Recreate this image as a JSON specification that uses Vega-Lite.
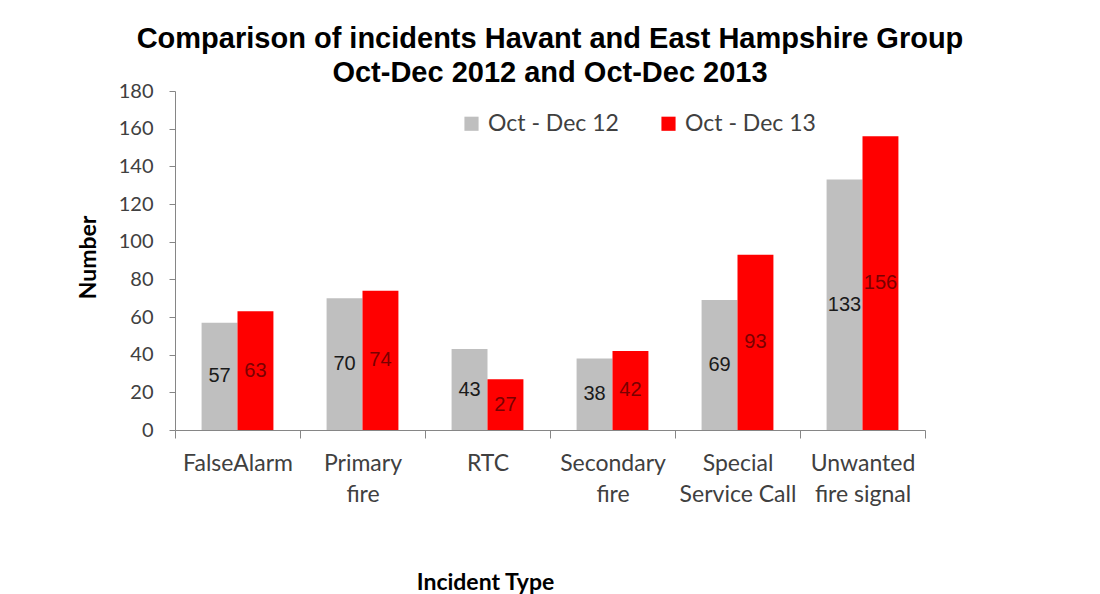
{
  "$schema": "https://vega.github.io/schema/vega-lite/v6.json",
  "width": 750,
  "height": 339,
  "autosize": {"type": "none"},
  "padding": {"left": 175, "top": 91, "right": 175, "bottom": 164},
  "background": "white",
  "title": {
    "text": ["Comparison of incidents Havant and East Hampshire Group", "Oct-Dec 2012 and Oct-Dec 2013"],
    "font": "Liberation Sans",
    "fontSize": 29,
    "fontWeight": "bold",
    "color": "#000000",
    "anchor": "middle",
    "frame": "group",
    "lineHeight": 34,
    "offset": -7
  },
  "data": {
    "values": [
      {"type": "FalseAlarm", "period": "Oct - Dec 12", "value": 57},
      {"type": "FalseAlarm", "period": "Oct - Dec 13", "value": 63},
      {"type": "Primary fire", "period": "Oct - Dec 12", "value": 70},
      {"type": "Primary fire", "period": "Oct - Dec 13", "value": 74},
      {"type": "RTC", "period": "Oct - Dec 12", "value": 43},
      {"type": "RTC", "period": "Oct - Dec 13", "value": 27},
      {"type": "Secondary fire", "period": "Oct - Dec 12", "value": 38},
      {"type": "Secondary fire", "period": "Oct - Dec 13", "value": 42},
      {"type": "Special Service Call", "period": "Oct - Dec 12", "value": 69},
      {"type": "Special Service Call", "period": "Oct - Dec 13", "value": 93},
      {"type": "Unwanted fire signal", "period": "Oct - Dec 12", "value": 133},
      {"type": "Unwanted fire signal", "period": "Oct - Dec 13", "value": 156}
    ]
  },
  "encoding": {
    "x": {
      "field": "type",
      "type": "nominal",
      "sort": null,
      "scale": {"paddingInner": 0, "paddingOuter": 0},
      "axis": {
        "title": "Incident Type",
        "titleFont": "Lato",
        "titleFontSize": 23,
        "titleFontWeight": "bold",
        "titleColor": "#000000",
        "titleX": 310,
        "titleY": 159,
        "titleAlign": "center",
        "titleBaseline": "alphabetic",
        "labelAngle": 0,
        "labelFont": "Lato",
        "labelFontSize": 23,
        "labelColor": "#404040",
        "labelLineHeight": 31,
        "labelPadding": 14,
        "labelExpr": "datum.value == 'Primary fire' ? ['Primary', 'fire'] : datum.value == 'Secondary fire' ? ['Secondary', 'fire'] : datum.value == 'Special Service Call' ? ['Special', 'Service Call'] : datum.value == 'Unwanted fire signal' ? ['Unwanted', 'fire signal'] : datum.value",
        "tickBand": "extent",
        "tickSize": 8,
        "tickColor": "#868686",
        "domainColor": "#868686",
        "labelLimit": 200
      }
    },
    "xOffset": {
      "field": "period",
      "type": "nominal",
      "scale": {"paddingInner": 0, "paddingOuter": 0.74}
    }
  },
  "layer": [
    {
      "mark": {"type": "bar"},
      "encoding": {
        "y": {
          "field": "value",
          "type": "quantitative",
          "scale": {"domain": [0, 180]},
          "axis": {
            "title": "Number",
            "titleFont": "Lato",
            "titleFontSize": 23,
            "titleFontWeight": "bold",
            "titleColor": "#000000",
            "titleX": -87,
            "titleY": 166,
            "titleAlign": "center",
            "titleBaseline": "middle",
            "values": [0, 20, 40, 60, 80, 100, 120, 140, 160, 180],
            "grid": false,
            "labelFont": "Lato",
            "labelFontSize": 20,
            "labelColor": "#404040",
            "labelPadding": 16,
            "tickSize": 6,
            "tickColor": "#868686",
            "domainColor": "#868686"
          }
        },
        "color": {
          "field": "period",
          "type": "nominal",
          "scale": {"domain": ["Oct - Dec 12", "Oct - Dec 13"], "range": ["#BFBFBF", "#FF0000"]},
          "legend": {
            "title": null,
            "orient": "none",
            "legendX": 285,
            "legendY": 21,
            "direction": "horizontal",
            "symbolType": "square",
            "symbolSize": 200,
            "symbolStrokeWidth": 0,
            "labelFont": "Lato",
            "labelFontSize": 23,
            "labelColor": "#404040",
            "labelOffset": 5,
            "columnPadding": 38
          }
        }
      }
    },
    {
      "mark": {"type": "text", "font": "Liberation Sans", "fontSize": 20, "baseline": "middle", "align": "center"},
      "encoding": {
        "y": {
          "field": "value",
          "type": "quantitative",
          "scale": {"domain": [0, 360]},
          "axis": null
        },
        "text": {"field": "value", "type": "quantitative"},
        "color": {
          "field": "period",
          "type": "nominal",
          "scale": {"domain": ["Oct - Dec 12", "Oct - Dec 13"], "range": ["#1a1a1a", "#7a0000"]},
          "legend": null
        }
      }
    }
  ],
  "resolve": {"scale": {"y": "independent", "color": "independent"}},
  "config": {"view": {"stroke": null}}
}
